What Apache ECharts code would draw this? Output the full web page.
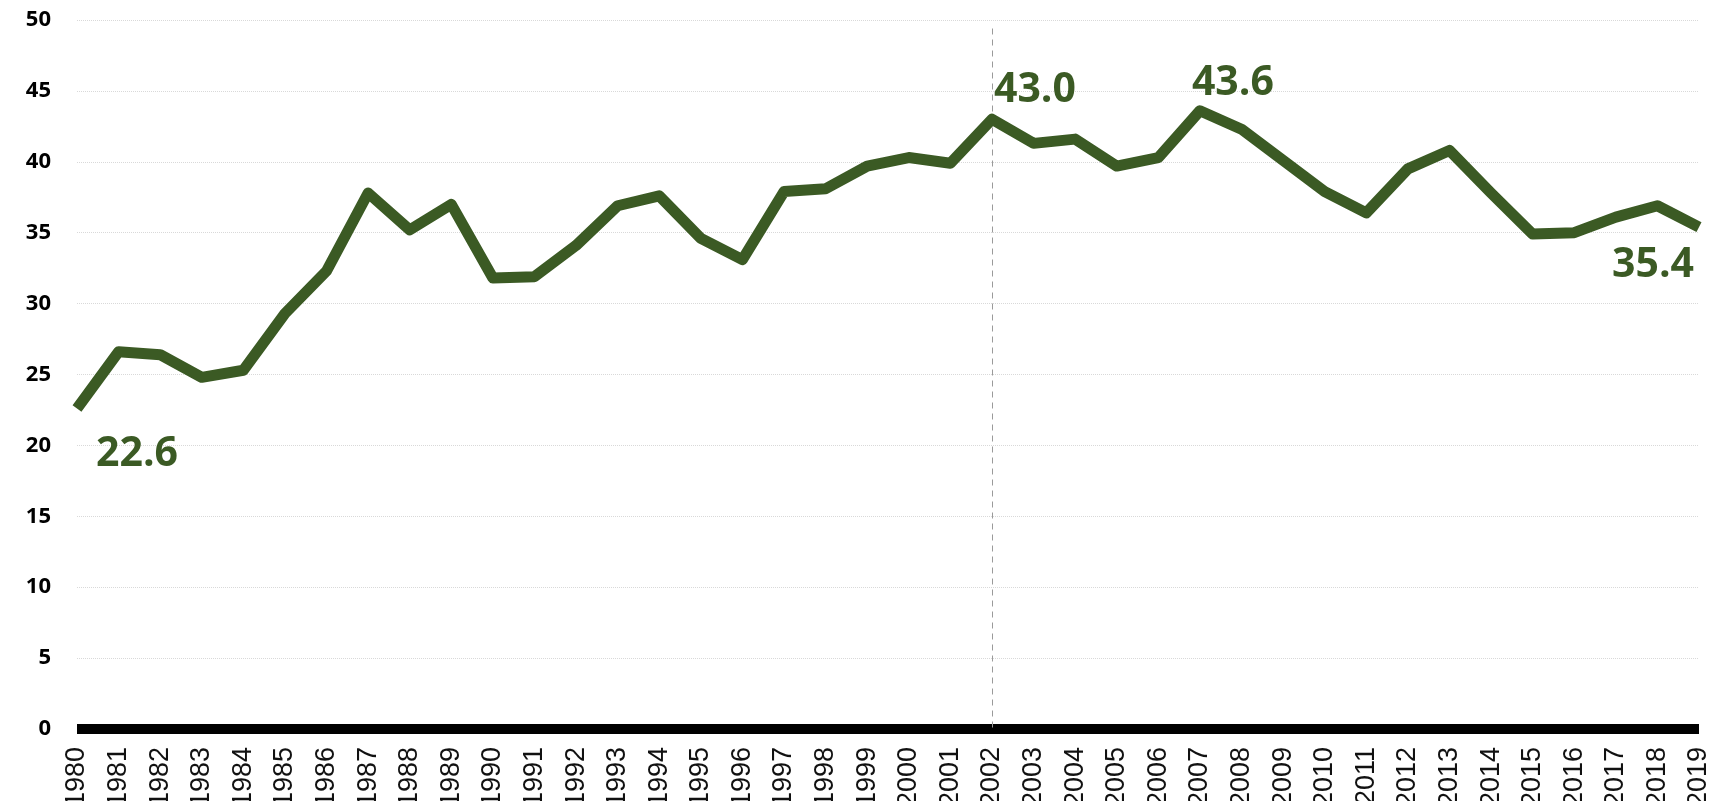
<!DOCTYPE html>
<html>
<head>
<meta charset="utf-8">
<script src="https://cdn.jsdelivr.net/npm/echarts@6/dist/echarts.min.js"></script>
<style>
  html, body { margin: 0; padding: 0; background: #fff; }
  #main { width: 1714px; height: 801px; }
</style>
</head>
<body>
<div id="main"></div>
<script>
// years on the x axis
var years = [];
for (var y = 1980; y <= 2019; y++) years.push(String(y));

// values
var values = [
  22.6, 26.6, 26.4, 24.8, 25.3, 29.3, 32.3, 37.8, 35.2, 37.0,
  31.8, 31.9, 34.1, 36.9, 37.6, 34.6, 33.1, 37.9, 38.1, 39.7,
  40.3, 39.9, 43.0, 41.3, 41.6, 39.7, 40.3, 43.6, 42.3, 40.1,
  37.9, 36.4, 39.5, 40.8, 37.8, 34.9, 35.0, 36.1, 36.9, 35.4
];

// annotated points
var noteYears = ['1980', '2002', '2007', '2019'];
var yTicks = [0, 5, 10, 15, 20, 25, 30, 35, 40, 45, 50];
// reference line year and its top end
var refYear = '2002';
var refTop = 49.4;

var green = '#3b5a24';
// label offsets per annotated point (style only)
var noteOffsets = {
  '1980': [60, 46],
  '2002': [43, -29],
  '2007': [33, -27],
  '2019': [-46, 38]
};

var chart = echarts.init(document.getElementById('main'));

var markData = noteYears.map(function (yr) {
  var v = values[years.indexOf(yr)];
  return {
    coord: [yr, v],
    value: v,
    label: { offset: noteOffsets[yr] }
  };
});

chart.setOption({
  animation: false,
  grid: { left: 77, right: 15, top: 20, bottom: 72, containLabel: false, outerBoundsMode: 'none' },
  xAxis: {
    type: 'category',
    data: years,
    boundaryGap: false,
    axisLine: { show: true, lineStyle: { color: '#000', width: 10, cap: 'butt' } },
    axisTick: { show: false },
    axisLabel: {
      interval: 0,
      rotate: 90,
      margin: 18,
      color: '#111',
      fontSize: 27,
      fontFamily: 'Liberation Sans'
    },
    splitLine: { show: false }
  },
  yAxis: {
    type: 'value',
    min: yTicks[0],
    max: yTicks[yTicks.length - 1],
    interval: 5,
    axisLine: { show: false },
    axisTick: { show: false },
    axisLabel: {
      margin: 26,
      color: '#000',
      fontSize: 22,
      fontWeight: 'bold',
      fontFamily: 'Open Sans'
    },
    splitLine: { show: true, lineStyle: { color: '#d9d9d9', type: 'dotted', width: 1 } }
  },
  series: [{
    type: 'line',
    data: values,
    symbol: 'none',
    lineStyle: { color: green, width: 11, join: 'round' },
    itemStyle: { color: green },
    z: 3,
    markLine: {
      silent: true,
      symbol: ['none', 'none'],
      label: { show: false },
      lineStyle: { color: '#9a9a9a', type: [6, 5], width: 1 },
      data: [[{ coord: [refYear, refTop] }, { coord: [refYear, 0] }]],
      z: 1
    },
    markPoint: {
      symbol: 'circle',
      symbolSize: 1,
      itemStyle: { color: 'rgba(0,0,0,0)' },
      label: {
        show: true,
        position: 'inside',
        color: green,
        fontSize: 41,
        fontWeight: 'bold',
        fontFamily: 'Open Sans',
        formatter: function (p) { return p.value.toFixed(1); }
      },
      data: markData
    }
  }]
});
</script>
</body>
</html>
